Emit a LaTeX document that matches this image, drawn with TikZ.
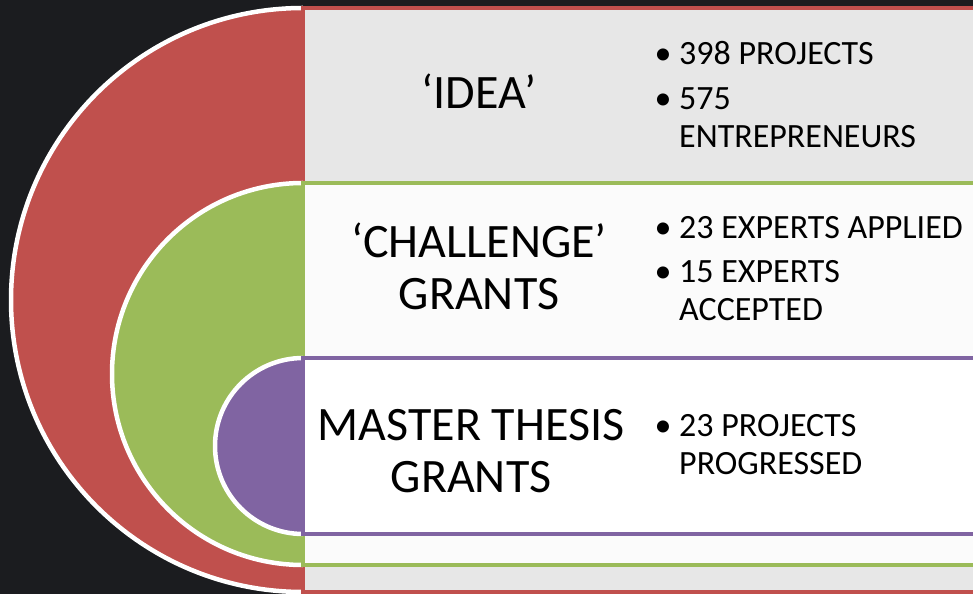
\documentclass[tikz,border=0pt]{standalone}
\usepackage{fontspec}
\setmainfont{Carlito}

\definecolor{bgdark}{HTML}{1B1C1F}
\definecolor{ringred}{HTML}{C0504D}
\definecolor{ringgreen}{HTML}{9BBB59}
\definecolor{ringpurple}{HTML}{8064A2}
\definecolor{paneA}{HTML}{E7E7E7}
\definecolor{paneB}{HTML}{FBFBFB}

\begin{document}
\begin{tikzpicture}[
    x=1pt, y=1pt,
    rim/.style={draw=white, line width=4.5pt},
    pane/.style={line width=4pt},
    head/.style={font=\fontsize{48}{52}\selectfont, align=center,
                 anchor=base, inner sep=0pt},
    itm/.style={font=\fontsize{34}{38}\selectfont, align=left,
                anchor=base west, inner sep=0pt},
    bul/.style={font=\fontsize{34}{38}\selectfont, anchor=base,
                inner sep=0pt},
  ]

  %% ---- backdrop -----------------------------------------------------
  \fill[bgdark] (0,0) rectangle (973,594);
  \clip (0,0) rectangle (973,594);

  %% ---- outer ring: ideas --------------------------------------------
  \fill[ringred] (303,586) arc[start angle=90, end angle=270, radius=292] -- cycle;
  \draw[rim]     (303,586) arc[start angle=90, end angle=270, radius=292];
  \draw[pane, draw=ringred, fill=paneA] (303,2) rectangle (990,586);

  %% ---- middle ring: challenge grants --------------------------------
  \fill[ringgreen] (303,411) arc[start angle=90, end angle=270, radius=191] -- cycle;
  \draw[rim]       (303,411) arc[start angle=90, end angle=270, radius=191];
  \draw[pane, draw=ringgreen, fill=paneB] (303,29) rectangle (990,411);

  %% ---- inner ring: master thesis grants -----------------------------
  \fill[ringpurple] (303,236) arc[start angle=90, end angle=270, radius=88] -- cycle;
  \draw[rim]        (303,236) arc[start angle=90, end angle=270, radius=88];
  \draw[pane, draw=ringpurple, fill=white] (303,60) rectangle (990,236);

  %% ---- headings (base = last line) ----------------------------------
  \node[head] (hIdea)   at (479,485) {‘IDEA’};
  \node[head] (hChal)   at (479,284) {‘CHALLENGE’\\GRANTS};
  \node[head] (hThesis) at (471,102) {MASTER THESIS\\GRANTS};

  %% ---- bullet points ------------------------------------------------
  \node[bul] (b1) at (663,529) {\textbullet};
  \node[itm] (t1) at (679,529) {398 PROJECTS};
  \node[bul] (b2) at (663,484) {\textbullet};
  \node[itm] (t2) at (679,446) {575\\ENTREPRENEURS};

  \node[bul] (b3) at (663,355) {\textbullet};
  \node[itm] (t3) at (679,355) {23 EXPERTS APPLIED};
  \node[bul] (b4) at (663,311) {\textbullet};
  \node[itm] (t4) at (679,273) {15 EXPERTS\\ACCEPTED};

  \node[bul] (b5) at (663,157) {\textbullet};
  \node[itm] (t5) at (679,119) {23 PROJECTS\\PROGRESSED};

\end{tikzpicture}
\end{document}
